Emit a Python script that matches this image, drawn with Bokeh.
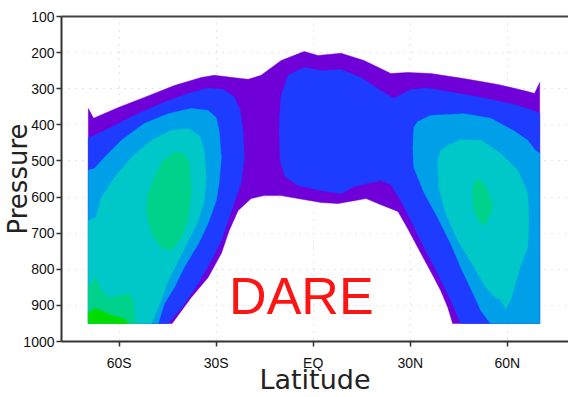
from bokeh.plotting import figure
from bokeh.models import Range1d, FixedTicker, LinearAxis, Label, ColumnDataSource
from bokeh.embed import file_html
from bokeh.resources import INLINE

# ---- data: shaded contour regions (latitude in degrees, pressure in hPa) ----
purple_lat = [-69.5, -69.5, -67.9, -60.2, -52.2, -42.9, -34.6, -30.6, -22.3, -20.1, -16.1,
              -9.9, -2.8, 1.5, 8.6, 15.7, 24.0, 29.2, 36.3, 46.5, 57.0, 66.3, 68.4, 70.0,
              70.0, 43.1, 41.6, 39.4, 37.3, 33.3, 29.2, 26.2, 20.9, 16.3, 12.6, 7.7, 2.4,
              -4.7, -9.9, -15.2, -19.2, -23.2, -26.0, -28.4, -32.5, -37.7, -43.6]
purple_p = [950, 355, 382, 352, 324, 291, 269, 263, 272, 274, 263,
            222, 197, 208, 202, 222, 258, 255, 258, 272, 288, 308, 313, 283,
            950, 950, 906, 859, 823, 756, 687, 640, 621, 604, 610, 618, 615,
            604, 596, 596, 604, 637, 693, 756, 823, 878, 950]

blue_l_lat = [-69.5, -69.5, -67.9, -62.4, -55.3, -47.0, -38.6, -32.5, -27.8, -24.4, -22.6,
              -21.7, -21.3, -22.3, -24.4, -26.3, -28.4, -31.5, -35.5, -40.2, -44.8]
blue_l_p = [950, 435, 430, 407, 374, 341, 313, 299, 302, 322, 360,
            416, 490, 562, 615, 665, 720, 776, 839, 900, 950]

blue_r_lat = [-9.9, -7.8, -2.8, 2.4, 8.6, 14.7, 20.3, 24.9, 30.2, 35.4, 41.6, 51.8, 61.9,
              68.1, 70.0, 70.0, 45.6, 42.5, 38.5, 34.2, 30.2, 27.1, 24.0, 20.9, 17.8,
              12.6, 8.6, 2.4, -4.7, -8.7, -10.2, -10.5]
blue_r_p = [319, 263, 241, 250, 247, 269, 302, 327, 302, 299, 308, 324, 344,
            360, 369, 950, 950, 886, 812, 740, 665, 610, 565, 554, 560,
            571, 590, 582, 568, 543, 499, 407]

lblue_l_lat = [-69.5, -69.5, -67.6, -64.5, -59.3, -52.2, -44.8, -37.7, -32.5, -30.0, -29.1,
               -28.4, -29.1, -30.0, -32.5, -35.5, -39.9, -42.9, -46.0, -47.9]
lblue_l_p = [950, 526, 521, 490, 443, 396, 369, 355, 360, 380, 416,
             490, 562, 610, 673, 729, 795, 850, 895, 950]

lblue_r_lat = [31.1, 32.3, 36.3, 46.5, 54.8, 61.9, 66.3, 68.7, 70.0, 70.0, 54.8, 51.8,
               49.0, 45.6, 42.5, 38.5, 34.2, 31.1, 30.8]
lblue_r_p = [407, 391, 374, 369, 382, 416, 443, 471, 479, 950, 950, 914,
             859, 795, 729, 657, 587, 518, 463]

teal_l_lat = [-69.5, -69.5, -67.2, -65.5, -61.4, -56.2, -50.0, -43.9, -38.6, -35.2, -33.7,
              -33.1, -33.7, -35.5, -38.6, -41.7, -44.8, -47.0, -50.0]
teal_l_p = [950, 665, 657, 601, 546, 490, 443, 416, 410, 430, 471,
            546, 610, 665, 720, 776, 831, 886, 950]

teal_r_lat = [38.5, 39.4, 41.6, 45.6, 51.8, 57.9, 63.2, 66.3, 66.6, 66.3, 64.1, 62.6, 61.0,
              59.5, 57.9, 55.8, 53.3, 49.0, 44.7, 41.0, 38.8]
teal_r_p = [499, 471, 457, 441, 443, 479, 526, 590, 665, 740, 790, 837, 886,
            909, 886, 875, 850, 784, 720, 646, 574]

aqua_l_lat = [-42.9, -39.8, -38.3, -37.7, -38.6, -40.8, -43.9, -47.0, -50.0, -51.6, -51.0,
              -49.1, -46.3]
aqua_l_p = [477, 479, 507, 582, 657, 712, 748, 740, 701, 637, 590, 546, 499]

aqua_b_lat = [-69.5, -69.5, -67.9, -67.2, -65.5, -63.3, -60.2, -56.8, -55.6, -55.3, -54.7]
aqua_b_p = [950, 845, 831, 823, 859, 878, 873, 867, 886, 922, 950]

aqua_r_lat = [50.8, 52.7, 54.8, 55.5, 53.9, 52.7, 51.1, 49.6, 49.3, 49.6]
aqua_r_p = [549, 562, 601, 629, 665, 679, 665, 629, 590, 562]

green_lat = [-69.5, -69.5, -67.6, -65.5, -62.4, -58.4, -57.1]
green_p = [950, 920, 909, 914, 928, 936, 950]

region_colors = ["#7000d8", "#1e3cff", "#1e3cff", "#00a0e8", "#00a0e8", "#00c8c8",
                 "#00c8c8", "#00d28c", "#00d28c", "#00d28c", "#00dc00"]

lat_ticks = [-60, -30, 0, 30, 60]
lat_labels = ["60S", "30S", "EQ", "30N", "60N"]
p_ticks = [100, 200, 300, 400, 500, 600, 700, 800, 900, 1000]

x_title = "Latitude"
y_title = "Pressure"
label_text = "DARE"
label_lat = -26.0
label_p = 873

# ---- figure ----
src = ColumnDataSource(dict(
    xs=[purple_lat, blue_l_lat, blue_r_lat, lblue_l_lat, lblue_r_lat, teal_l_lat,
        teal_r_lat, aqua_l_lat, aqua_b_lat, aqua_r_lat, green_lat],
    ys=[purple_p, blue_l_p, blue_r_p, lblue_l_p, lblue_r_p, teal_l_p,
        teal_r_p, aqua_l_p, aqua_b_p, aqua_r_p, green_p],
    color=region_colors,
))

p = figure(width=568, height=397, x_range=Range1d(-77.8, 78.9), y_range=Range1d(1000, 100),
           output_backend="svg", toolbar_location=None,
           min_border_left=60, min_border_right=0, min_border_top=16, min_border_bottom=56)
p.outline_line_color = None
p.background_fill_color = "white"
p.border_fill_color = "white"

p.patches("xs", "ys", source=src, fill_color="color", line_color="color", line_width=0.5)

tick_font = "Liberation Sans"

p.xaxis.ticker = FixedTicker(ticks=lat_ticks)
p.xaxis.major_label_overrides = {t: l for t, l in zip(lat_ticks, lat_labels)}
p.yaxis.ticker = FixedTicker(ticks=p_ticks)

for ax in (p.xaxis[0], p.yaxis[0]):
    ax.axis_line_color = "#333333"
    ax.axis_line_width = 2
    ax.major_tick_line_color = "#333333"
    ax.major_tick_line_width = 1.5
    ax.major_tick_out = 5
    ax.major_tick_in = 0
    ax.minor_tick_line_color = None
    ax.major_label_text_font = tick_font
    ax.major_label_text_font_size = "14px"
    ax.major_label_text_color = "#111111"
    ax.axis_label_text_font = "DejaVu Sans"
    ax.axis_label_text_font_style = "normal"
    ax.axis_label_text_color = "#222222"

p.xaxis.major_label_standoff = 8
p.yaxis.major_label_standoff = 2

p.xaxis.axis_label = x_title
p.xaxis.axis_label_text_font_size = "27px"
p.xaxis.axis_label_standoff = -10

p.yaxis.axis_label = y_title
p.yaxis.axis_label_text_font_size = "26px"
p.yaxis.axis_label_standoff = -13

top = LinearAxis(ticker=FixedTicker(ticks=[]), axis_line_color="#444444", axis_line_width=2,
                 major_label_text_font_size="0px", major_tick_line_color=None,
                 minor_tick_line_color=None)
p.add_layout(top, "above")

p.xgrid.ticker = FixedTicker(ticks=lat_ticks)
p.ygrid.ticker = FixedTicker(ticks=p_ticks[1:-1])
for g in (p.xgrid[0], p.ygrid[0]):
    g.grid_line_color = "#cccccc"
    g.grid_line_dash = "1 6"
    g.grid_line_width = 1

p.add_layout(Label(x=label_lat, y=label_p, text=label_text, text_color="#ff1414",
                   text_font="Liberation Sans", text_font_size="52px",
                   text_baseline="alphabetic", text_align="left"))

open("out.html", "w").write(file_html(p, INLINE))
